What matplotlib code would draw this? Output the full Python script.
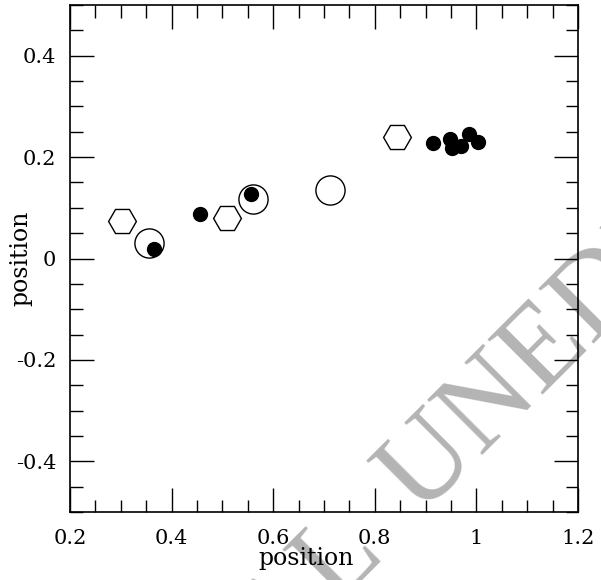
import numpy as np
import matplotlib
matplotlib.use("Agg")
import matplotlib.pyplot as plt
from matplotlib.ticker import MultipleLocator

# open hexagons
hex_x = [0.302, 0.509, 0.844]
hex_y = [0.074, 0.080, 0.240]

# open circles
ring_x = [0.356, 0.560, 0.712]
ring_y = [0.031, 0.117, 0.135]

# filled dots
dot_x = [0.365, 0.456, 0.556, 0.915, 0.948, 0.952, 0.970, 0.985, 1.003]
dot_y = [0.019, 0.088, 0.127, 0.228, 0.236, 0.218, 0.222, 0.246, 0.230]

plt.rcParams['font.family'] = 'DejaVu Serif'

fig = plt.figure(figsize=(6.01, 5.80), dpi=100)
ax = fig.add_axes([70 / 601, 1 - 512 / 580, 508 / 601, 507 / 580])
ax.patch.set_facecolor('none')

ax.plot(hex_x, hex_y, 'H', ms=20, mfc='none', mec='black', mew=1.0)
ax.plot(ring_x, ring_y, 'o', ms=21, mfc='none', mec='black', mew=1.0)
ax.plot(dot_x, dot_y, 'o', ms=10, mfc='black', mec='black')

ax.set_xlim(0.2, 1.2)
ax.set_ylim(-0.5, 0.5)
ax.xaxis.set_major_locator(MultipleLocator(0.2))
ax.xaxis.set_minor_locator(MultipleLocator(0.05))
ax.yaxis.set_major_locator(MultipleLocator(0.2))
ax.yaxis.set_minor_locator(MultipleLocator(0.05))
ax.tick_params(which='both', direction='in', top=True, right=True, width=1.0, labelsize=15)
ax.tick_params(which='major', length=17)
ax.tick_params(which='minor', length=9)
ax.tick_params(axis='x', which='major', pad=12)
ax.tick_params(axis='y', which='major', pad=10)

def fmt(v, pos):
    return '%g' % round(v, 3)

ax.xaxis.set_major_formatter(plt.FuncFormatter(fmt))
ax.yaxis.set_major_formatter(plt.FuncFormatter(fmt))
for sp in ax.spines.values():
    sp.set_linewidth(1.2)

ax.set_xlabel('position', fontsize=17)
ax.xaxis.set_label_coords((306 - 70) / 508, -35 / 507)
ax.set_ylabel('position', fontsize=17)
ax.yaxis.set_label_coords(-38 / 508, 0.5)

# watermark
wm = dict(rotation=45, rotation_mode='anchor', va='baseline', color='#b4b4b4',
          fontsize=85, family='Liberation Serif', zorder=-1)
fig.text(385 / 601, 1 - 552 / 580, 'ORIGINAL', ha='right', **wm)
fig.text(420 / 601, 1 - 517 / 580, 'UNEDITED MANUSCRIPT', ha='left', **wm)

fig.savefig('out.png', dpi=100)
